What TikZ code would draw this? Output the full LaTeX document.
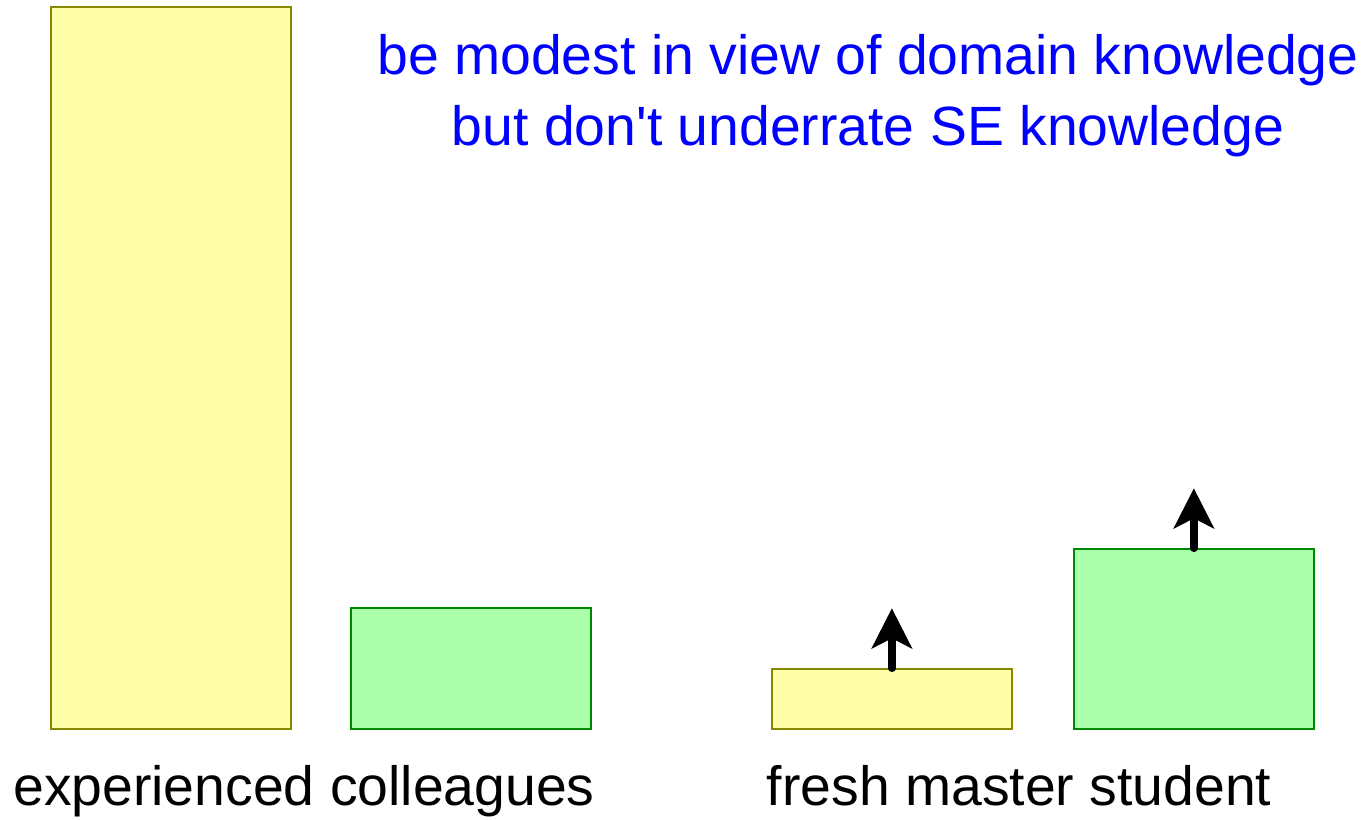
\documentclass[tikz,border=0pt]{standalone}
\usepackage{fontspec}
\setmainfont{Liberation Sans}
\usetikzlibrary{arrows.meta}
\definecolor{paleyellow}{RGB}{255,255,170}
\definecolor{olivedraw}{RGB}{136,136,0}
\definecolor{palegreen}{RGB}{170,255,170}
\definecolor{darkgreen}{RGB}{0,136,0}
\tikzset{
  domainbar/.style={draw=olivedraw,fill=paleyellow,line width=1pt,inner sep=0pt,minimum width=4.8cm,anchor=south west},
  sebar/.style={draw=darkgreen,fill=palegreen,line width=1pt,inner sep=0pt,minimum width=4.8cm,anchor=south west},
  raisearrow/.style={line width=4.3pt,line cap=round,-{Stealth[length=0.8cm,width=0.8cm,inset=0.2cm]}}
}
\begin{document}
\begin{tikzpicture}[x=0.02cm,y=-0.02cm]
\useasboundingbox (0,0) rectangle (1361,820);
\fill[white](0,0) rectangle (1361,820);
\node[domainbar,minimum height=14.44cm] (expdom) at (50,730) {};
\node[sebar,minimum height=2.42cm] (expse) at (350,730) {};
\node[domainbar,minimum height=1.2cm] (freshdom) at (771,730) {};
\node[sebar,minimum height=3.6cm] (freshse) at (1073,730) {};
\coordinate (freshdomup) at ([yshift=1.2cm]freshdom.north);
\coordinate (freshseup) at ([yshift=1.2cm]freshse.north);
\draw[raisearrow] (freshdom.north) -- (freshdomup);
\draw[raisearrow] (freshse.north) -- (freshseup);
\node[text=blue,align=center,font=\fontsize{31.5}{40.4}\selectfont] (advice) at (868,96) {be modest in view of domain knowledge\\but don\textquotesingle t underrate SE knowledge};
\node[font=\fontsize{31.5}{35}\selectfont,anchor=base] (explabel) at (304,805) {experienced colleagues};
\node[font=\fontsize{31.5}{35}\selectfont,anchor=base] (freshlabel) at (1019,805) {fresh master student};
\end{tikzpicture}
\end{document}
